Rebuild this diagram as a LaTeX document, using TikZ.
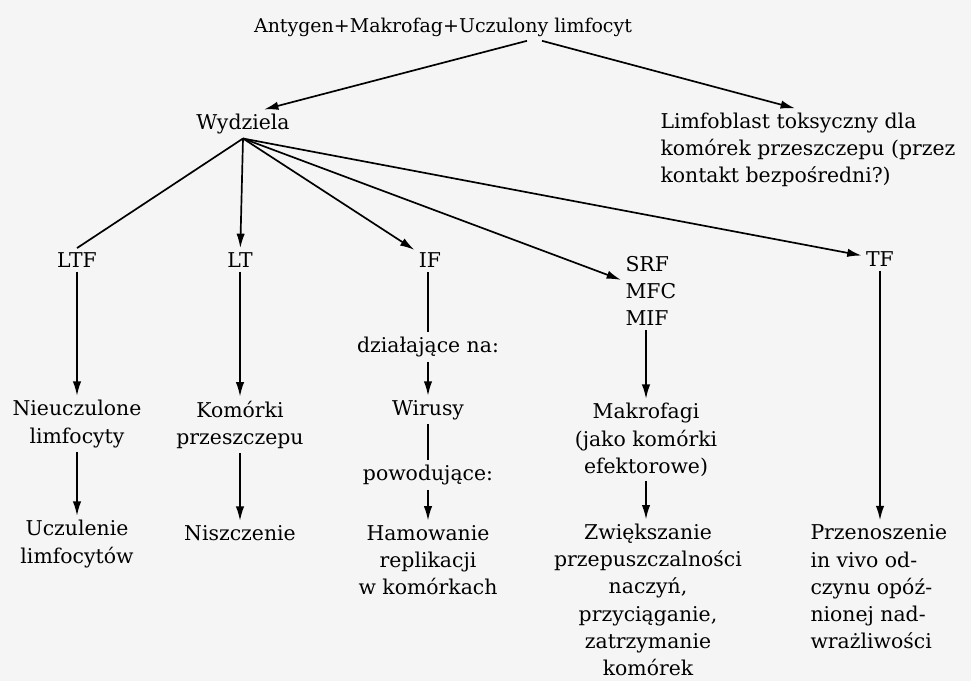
\documentclass[tikz,border=0pt]{standalone}
\usepackage{fontspec}
\setmainfont{DejaVu Serif}
\usetikzlibrary{arrows.meta, calc}

\begin{document}
\begin{tikzpicture}[x=0.025cm, y=-0.025cm, >={Latex[length=3.6mm, width=2.1mm]},
  every node/.style={font=\fontsize{14.5}{19.4}\selectfont, inner sep=3pt},
  link/.style={line width=1.2pt}]
% Page
\fill[black!4] (0,0) rectangle (971,681);
\useasboundingbox (0,0) rectangle (971,681);

% Top level
\node[font=\fontsize{13.5}{19.4}\selectfont] (title) at (443,27) {Antygen+Makrofag+Uczulony limfocyt};
\node (wydz) at (243,124) {Wydziela};
\node[align=left, anchor=west] (limfo) at (656,150) {Limfoblast toksyczny dla\\komórek przeszczepu (przez\\kontakt bezpośredni?)};
\coordinate (fan) at (wydz.south);

% Factors
\node (ltf) at (77,260) {LTF};
\node (lt) at (240,260) {LT};
\node (if) at (430,260) {IF};
\node[align=left, anchor=west] (srf) at (621,291) {SRF\\MFC\\MIF};
\node (tf) at (880,259) {TF};

% LTF column
\node[align=center] (nieucz) at (77,424) {Nieuczulone\\limfocyty};
\node[align=center] (uczul) at (77,544) {Uczulenie\\limfocytów};

% LT column
\node[align=center] (kom) at (240,425) {Komórki\\przeszczepu};
\node (niszcz) at (240,533) {Niszczenie};

% IF column
\node (dzial) at (428,347) {działające na:};
\node (wir) at (428,410) {Wirusy};
\node (powod) at (428,475) {powodujące:};
\node[align=center] (hamow) at (428,560) {Hamowanie\\replikacji\\w komórkach};

% SRF column
\node[align=center] (makro) at (646,440) {Makrofagi\\(jako komórki\\efektorowe)};
\node[align=center] (zwiek) at (648,600) {Zwiększanie\\przepuszczalności\\naczyń,\\przyciąganie,\\zatrzymanie\\komórek};

% TF column
\node[align=left, anchor=west] (przen) at (806,587) {Przenoszenie\\in vivo od-\\czynu opóź-\\nionej nad-\\wrażliwości};

% Arrows
\draw[link, ->] ($(title.south)+(84,0)$) -- ($(wydz.north east)+(-30,0)$);
\draw[link, ->] ($(title.south)+(99,0)$) -- ($(limfo.north west)+(139,0)$);

\draw[link] (fan) -- (ltf.north);
\draw[link, ->] (fan) -- (lt);
\draw[link, ->] (fan) -- (if);
\draw[link, ->] (fan) -- (srf);
\draw[link, ->] (fan) -- (tf);

\draw[link, ->] (ltf) -- (nieucz);
\draw[link, ->] (nieucz) -- (uczul);
\draw[link, ->] (lt) -- (kom);
\draw[link, ->] (kom) -- (niszcz);
\draw[link] (if.south -| dzial) -- (dzial);
\draw[link, ->] (dzial) -- (wir);
\draw[link] (wir) -- (powod);
\draw[link, ->] (powod) -- (hamow);
\draw[link, ->] (srf.south -| makro) -- (makro);
\draw[link, ->] (makro) -- (makro |- zwiek.north);
\draw[link, ->] (tf) -- (tf |- przen.north);
\end{tikzpicture}
\end{document}
